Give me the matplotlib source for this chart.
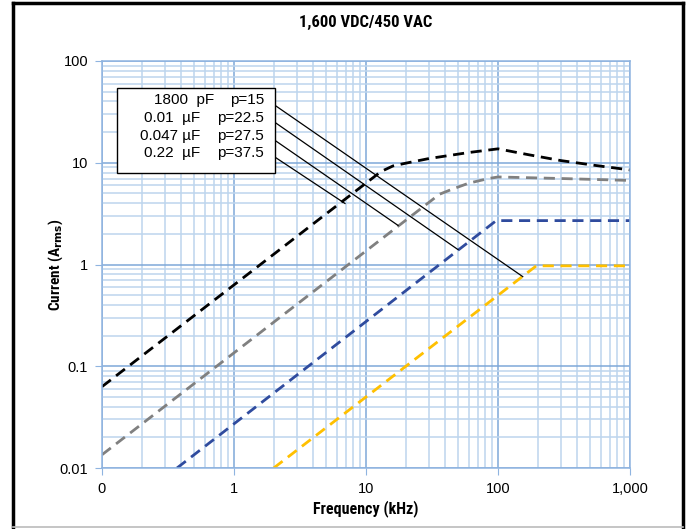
import matplotlib
matplotlib.use("Agg")
import matplotlib.pyplot as plt
from matplotlib.patches import Rectangle
from matplotlib.lines import Line2D

# ripple current vs frequency, one curve per capacitance
black_f = [0.1, 13, 16, 20, 30, 60, 100, 170, 300, 550, 1000]
black_i = [0.063, 8.2, 9.3, 9.9, 11.0, 12.6, 13.7, 12.0, 10.5, 9.4, 8.5]
gray_f = [0.1, 36, 45, 60, 85, 100, 300, 1000]
gray_i = [0.0135, 4.9, 5.5, 6.3, 7.0, 7.25, 7.0, 6.7]
blue_f = [0.37, 97, 1000]
blue_i = [0.01, 2.7, 2.7]
orange_f = [2.0, 195, 1000]
orange_i = [0.01, 0.97, 0.97]

legend_caps = ["1800  pF", "0.01  \u00b5F", "0.047 \u00b5F", "0.22  \u00b5F"]
legend_p = ["p=15", "p=22.5", "p=27.5", "p=37.5"]
# leader lines: start (near text) and end (on curve), data coords
lead_start_f = [1.81, 1.81, 1.81, 1.81]
lead_start_i = [40.9, 27.8, 18.5, 12.6]
lead_end_f = [154, 49.8, 17.5, 6.93]
lead_end_i = [0.76, 1.40, 2.42, 3.98]

xticks = [0.1, 1, 10, 100, 1000]
xlabels = ["0", "1", "10", "100", "1,000"]
yticks = [0.01, 0.1, 1, 10, 100]
ylabels = ["0.01", "0.1", "1", "10", "100"]

narrow = ["Liberation Sans Narrow", "Roboto Condensed", "DejaVu Sans"]
plt.rcParams["font.family"] = ["Liberation Sans", "DejaVu Sans"]
plt.rcParams["mathtext.fontset"] = "custom"
plt.rcParams["mathtext.bf"] = "Liberation Sans Narrow:bold"

fig = plt.figure(figsize=(6.88, 5.29), dpi=100)
ax = fig.add_axes([102/688, 61/529, 528/688, 407/529])
ax.set_xscale("log")
ax.set_yscale("log")
ax.set_xlim(0.1, 1000)
ax.set_ylim(0.01, 100)

ax.grid(True, which="minor", color="#BDD5EE", lw=1.1)
ax.grid(True, which="major", color="#7FA8D8", lw=1.1)
ax.set_axisbelow(True)
for sp in ax.spines.values():
    sp.set_color("#8FB4E0")
    sp.set_linewidth(1.1)

dash = (4, 2.4)
ax.plot(black_f, black_i, color="black", lw=2.0, dashes=dash)
ax.plot(gray_f, gray_i, color="#808080", lw=2.0, dashes=dash)
ax.plot(blue_f, blue_i, color="#2F4B9E", lw=2.0, dashes=dash)
ax.plot(orange_f, orange_i, color="#FFC000", lw=2.0, dashes=dash)

for i in range(4):
    ax.plot([lead_start_f[i], lead_end_f[i]], [lead_start_i[i], lead_end_i[i]],
            color="black", lw=0.9, zorder=5)

box = Rectangle((0.0284, 0.7248), 0.2993, 0.2089, transform=ax.transAxes,
                facecolor="white", edgecolor="black", lw=1.0, zorder=6)
ax.add_patch(box)
ty = [0.904, 0.860, 0.816, 0.774]
for c, p, y in zip(legend_caps, legend_p, ty):
    ax.text(0.3068, y, p, transform=ax.transAxes, ha="right", va="center",
            fontsize=11, zorder=7)
    ax.text(0.212 if "pF" in c else 0.1865, y, c, transform=ax.transAxes,
            ha="right", va="center", fontsize=11, zorder=7)

ax.set_xticks(xticks)
ax.set_xticklabels(xlabels)
ax.set_yticks(yticks)
ax.set_yticklabels(ylabels)
ax.tick_params(which="major", length=5, color="#8FB4E0", labelsize=10.5, pad=5)
ax.tick_params(which="minor", length=0)

ax.set_xlabel("Frequency (kHz)", family=narrow, fontweight="bold", fontsize=11.5, labelpad=3)
ax.set_ylabel(r"Current (A$_\mathbf{rms}$)", family=narrow, fontweight="bold",
              fontsize=11)
ax.yaxis.set_label_coords((65 - 102) / 528, 0.5)
fig.text(366/688, 1 - 22/529, "1,600 VDC/450 VAC", family=narrow,
         fontweight="bold", fontsize=12, ha="center", va="center")

# outer frame
fig.add_artist(Line2D([13/688, 13/688], [2/529, 1 - 3/529], color="black", lw=2.5))
fig.add_artist(Line2D([683/688, 683/688], [2/529, 1 - 3/529], color="black", lw=2.5))
fig.add_artist(Line2D([13/688, 683/688], [1 - 3/529, 1 - 3/529], color="black", lw=2.5))
fig.add_artist(Line2D([13/688, 683/688], [2/529, 2/529], color="#BBBBBB", lw=1.2))

fig.savefig("out.png", dpi=100)
